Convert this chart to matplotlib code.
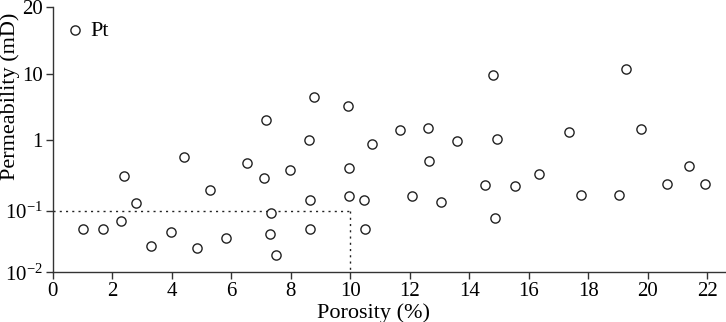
import numpy as np
import matplotlib
matplotlib.use("Agg")
import matplotlib.pyplot as plt

# porosity (%) and permeability (mD)
porosity = [1.03, 1.68, 2.31, 2.41, 2.81, 3.30, 3.98, 4.41, 4.85, 5.30,
            5.81, 6.54, 7.11, 7.17, 7.30, 7.33, 7.52, 7.97, 8.63, 8.64,
            8.65, 8.77, 9.93, 9.96, 9.95, 10.46, 10.49, 10.74, 11.68, 12.09,
            12.60, 12.65, 13.05, 13.60, 14.54, 14.80, 14.88, 14.95, 15.54, 16.35,
            17.34, 17.76, 19.05, 19.27, 19.78, 20.66, 21.38, 21.94]
permeability = [0.0505, 0.0505, 0.069, 0.31, 0.127, 0.0264, 0.0456, 0.57, 0.0245, 0.198,
                0.0365, 0.473, 0.287, 2.0, 0.0416, 0.091, 0.0193, 0.372, 1.0, 0.143,
                0.0505, 4.5, 3.24, 0.40, 0.164, 0.141, 0.0496, 0.88, 1.44, 0.161,
                1.50, 0.51, 0.131, 0.98, 0.229, 9.8, 0.0754, 1.03, 0.222, 0.334,
                1.34, 0.168, 0.165, 10.5, 1.48, 0.241, 0.428, 0.239]

yticks = [0.01, 0.1, 1, 10, 20]
yticklabels = [r'$\mathregular{10^{-2}}$', r'$\mathregular{10^{-1}}$', '1', '10', '20']
xticks = list(range(0, 23, 2))

# the original axis has uneven decade spacing, so map log values piecewise
log_nodes = np.array([-2, -1, 0, 1, np.log10(20)])
pos_nodes = np.array([0, 61.6, 132.3, 198.3, 265.0])


def fwd(v):
    v = np.clip(np.asarray(v, dtype=float), 1e-6, None)
    return np.interp(np.log10(v), log_nodes, pos_nodes, left=-1e3, right=1e3)


def inv(p):
    return 10 ** np.interp(p, pos_nodes, log_nodes)


plt.rcParams['font.family'] = 'Liberation Serif'
plt.rcParams['mathtext.fontset'] = 'custom'
plt.rcParams['mathtext.rm'] = 'Liberation Serif'

fig = plt.figure(figsize=(7.26, 3.22), dpi=100)
ax = fig.add_axes([0.0726, 0.1543, 0.9260, 0.8231])
ax.set_yscale('function', functions=(fwd, inv))

ax.scatter(porosity, permeability, s=44, facecolors='white', edgecolors='#222222',
           linewidths=1.0, label='Pt', zorder=3)

# dotted cut-off box
ax.plot([0, 10], [0.1, 0.1], color='#222222', lw=1.0, ls=(0, (1.5, 3)))
ax.plot([10, 10], [0.1, 0.01], color='#222222', lw=1.0, ls=(0, (1.5, 3)))

ax.set_xlim(0, 22.6)
ax.set_ylim(0.01, 20)
ax.set_xticks(xticks)
ax.set_yticks(yticks)
ax.set_yticklabels(yticklabels)
ax.minorticks_off()

for s in ['top', 'right']:
    ax.spines[s].set_visible(False)
for s in ['left', 'bottom']:
    ax.spines[s].set_color('#333333')
    ax.spines[s].set_linewidth(1.0)
ax.tick_params(direction='out', length=5, width=1, color='#333333',
               labelsize=15, pad=2)

ax.set_xlabel('Porosity (%)', fontsize=16)
ax.xaxis.set_label_coords(0.4766, -0.115)
ax.set_ylabel('Permeability (mD)', fontsize=16)
ax.yaxis.set_label_coords(-0.048, 0.665)

ax.legend(loc='upper left', bbox_to_anchor=(0.0, 1.0), frameon=False,
          fontsize=16, handlelength=0.8, handletextpad=0.28, borderaxespad=0.2)

fig.savefig('out.png', dpi=100)
